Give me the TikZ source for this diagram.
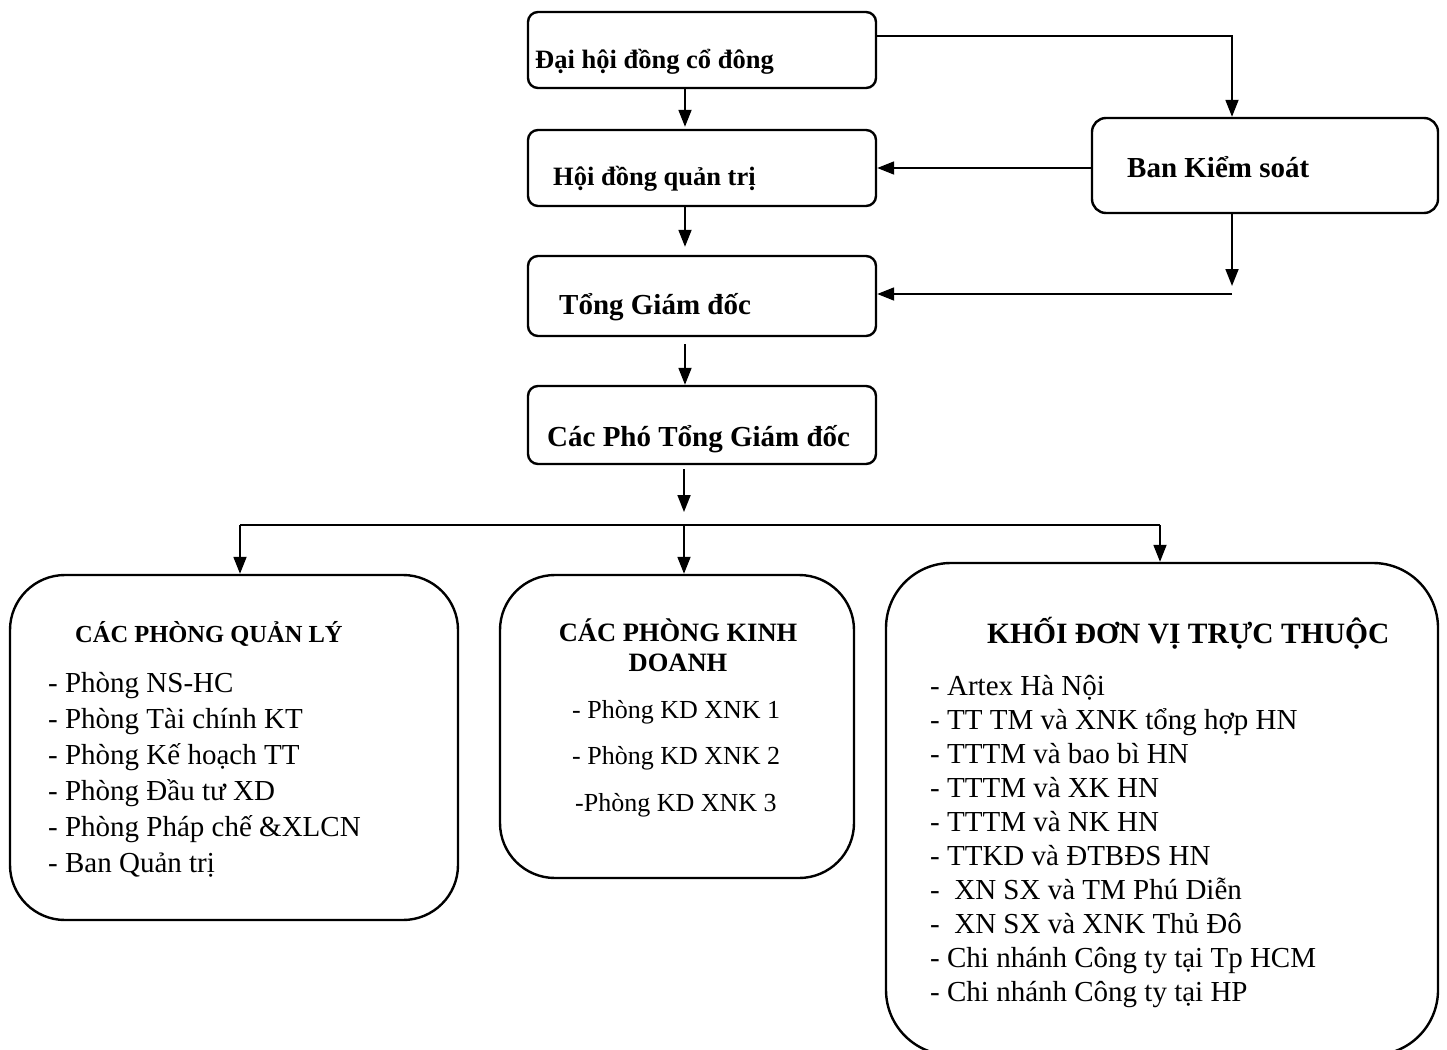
\documentclass[tikz,border=0pt]{standalone}
\usepackage{fontspec}
\setmainfont{Liberation Serif}
\usetikzlibrary{arrows.meta}
\tikzset{
  box/.style={draw, line width=2.4pt, rounded corners=10pt, inner sep=0pt},
  conn/.style={line width=1.8pt},
  arr/.style={conn, -{Triangle[length=17pt,width=13pt]}},
  head/.style={anchor=base west, inner sep=0pt, font=\bfseries\fontsize{26.5}{30}\selectfont},
  list/.style={anchor=base west, inner sep=0pt, align=left},
}
\begin{document}
\begin{tikzpicture}[x=1pt,y=-1pt]
  \useasboundingbox (0,0) rectangle (1447,1049);

  % top chain
  \node[box, minimum width=348pt, minimum height=76pt] (A) at (702,50) {};
  \node[box, minimum width=348pt, minimum height=76pt] (B) at (702,168) {};
  \node[box, minimum width=348pt, minimum height=80pt] (C) at (702,296) {};
  \node[box, minimum width=348pt, minimum height=78pt] (D) at (702,425) {};
  \node[box, rounded corners=14pt, minimum width=346pt, minimum height=95pt] (K) at (1265,165.5) {};

  \node[head] (tA) at (535,68) {Đại hội đồng cổ đông};
  \node[head] (tB) at (553,185) {Hội đồng quản trị};
  \node[head, font=\bfseries\fontsize{29}{34}\selectfont] (tK) at (1127,177) {Ban Kiểm soát};
  \node[head, font=\bfseries\fontsize{29}{34}\selectfont] (tC) at (559,314) {Tổng Giám đốc};
  \node[head, font=\bfseries\fontsize{29}{34}\selectfont] (tD) at (547,446) {Các Phó Tổng Giám đốc};

  % bottom boxes
  \node[box, rounded corners=55pt, minimum width=448pt, minimum height=345pt] (E1) at (234,747.5) {};
  \node[box, rounded corners=55pt, minimum width=354pt, minimum height=303pt] (E2) at (677,726.5) {};
  \node[box, rounded corners=65pt, minimum width=552pt, minimum height=492pt] (E3) at (1162,809) {};

  % multi-line nodes sit on their last line
  \node[head, font=\bfseries\fontsize{24.5}{30}\selectfont] (tE1) at (75,642) {CÁC PHÒNG QUẢN LÝ};
  \node[list, font=\fontsize{29}{36}\selectfont] (lE1) at (48,872) {- Phòng NS-HC\\- Phòng Tài chính KT\\- Phòng Kế hoạch TT\\- Phòng Đầu tư XD\\- Phòng Pháp chế \&XLCN\\- Ban Quản trị};

  \node[head, anchor=base, align=center, font=\bfseries\fontsize{26.5}{30}\selectfont] (tE2) at (678,671) {CÁC PHÒNG KINH\\DOANH};
  \node[list, font=\fontsize{26}{46.5}\selectfont] (lE2) at (572,811) {- Phòng KD XNK 1\\- Phòng KD XNK 2\\\hspace*{3pt}-Phòng KD XNK 3};

  \node[head, font=\bfseries\fontsize{29.5}{34}\selectfont] (tE3) at (987,643) {KHỐI ĐƠN VỊ TRỰC THUỘC};
  \node[list, font=\fontsize{29}{33.9}\selectfont] (lE3) at (930,1001) {- Artex Hà Nội\\- TT TM và XNK tổng hợp HN\\- TTTM và bao bì HN\\- TTTM và XK HN\\- TTTM và NK HN\\- TTKD và ĐTBĐS HN\\-\ \ XN SX và TM Phú Diễn\\-\ \ XN SX và XNK Thủ Đô\\- Chi nhánh Công ty tại Tp HCM\\- Chi nhánh Công ty tại HP};

  % connectors
  \draw[arr] ([xshift=-17pt]A.south) -- ([xshift=-17pt,yshift=2pt]B.north);
  \draw[arr] ([xshift=-17pt]B.south) -- ([xshift=-17pt,yshift=8pt]C.north);
  \draw[arr] ([xshift=-17pt,yshift=-7pt]C.south) -- ([xshift=-17pt]D.north);
  \draw[arr] ([yshift=14pt]A.east) -| ([xshift=-33pt]K.north);
  \draw[arr] (K.west |- B.east) -- (B.east);
  \coordinate (kc) at (1232,294);
  \draw[arr] ([xshift=-33pt]K.south) -- ([yshift=8pt]kc);
  \draw[arr] (kc) -- (kc -| C.east);

  \coordinate (bus) at (684,525);
  \coordinate (busL) at (240,525);
  \coordinate (busR) at (1160,525);
  \draw[arr] ([xshift=-18pt,yshift=-4pt]D.south) -- ([yshift=13pt]bus);
  \draw[conn] (busL) -- (busR);
  \draw[arr] (busL) -- (busL |- E1.north);
  \draw[arr] (bus) -- (bus |- E2.north);
  \draw[arr] (busR) -- (busR |- E3.north);
\end{tikzpicture}
\end{document}
